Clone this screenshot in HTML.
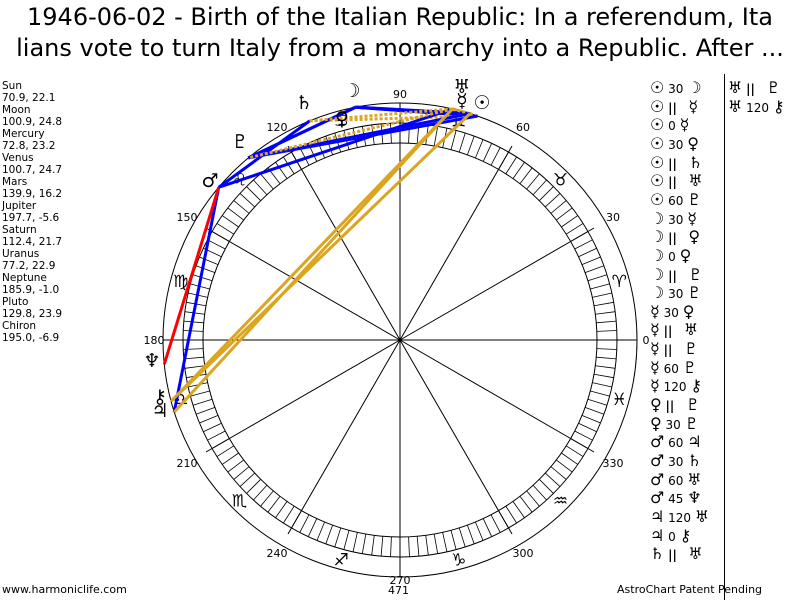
<!DOCTYPE html>
<html><head><meta charset="utf-8">
<style>
body{margin:0;background:#fff;width:800px;height:600px;overflow:hidden;position:relative;font-family:"DejaVu Sans","Liberation Sans",sans-serif;}
.t{position:absolute;left:0;width:800px;text-align:center;font-size:24px;color:#000;white-space:nowrap;}
.l{position:absolute;left:2px;font-size:10.5px;line-height:12px;top:80px;}
.a{position:absolute;font-size:12px;white-space:nowrap;}
.s{position:absolute;font-size:11px;}
.g{font-size:16px;font-weight:bold;}
</style></head><body>
<div class="t" style="top:3px">1946-06-02 - Birth of the Italian Republic: In a referendum, Ita</div>
<div class="t" style="top:34px">lians vote to turn Italy from a monarchy into a Republic. After ...</div>
<div class="l">Sun<br>70.9, 22.1<br>Moon<br>100.9, 24.8<br>Mercury<br>72.8, 23.2<br>Venus<br>100.7, 24.7<br>Mars<br>139.9, 16.2<br>Jupiter<br>197.7, -5.6<br>Saturn<br>112.4, 21.7<br>Uranus<br>77.2, 22.9<br>Neptune<br>185.9, -1.0<br>Pluto<br>129.8, 23.9<br>Chiron<br>195.0, -6.9</div>
<div class="s" style="left:2px;top:583px">www.harmoniclife.com</div>
<div class="s" style="left:388px;top:584px">471</div>
<div class="s" style="left:617px;top:583px">AstroChart Patent Pending</div>
<div style="position:absolute;left:724px;top:74px;width:1px;height:526px;background:#000"></div>
<div id="asp"></div>
<svg id="c" width="800" height="600" style="position:absolute;left:0;top:0"></svg>
<script>
var cx=400,cy=340,svg=document.getElementById('c'),h='';
function P(a,r){var t=a*Math.PI/180;return [cx+r*Math.cos(t),cy-r*Math.sin(t)];}
h+='<circle cx="400" cy="340" r="237" fill="none" stroke="#000"/>';
h+='<circle cx="400" cy="340" r="217" fill="none" stroke="#000"/>';
h+='<circle cx="400" cy="340" r="197" fill="none" stroke="#000"/>';
for(var a=0;a<360;a+=2.5){var p=P(a,197),q=P(a,217);h+='<line x1="'+p[0]+'" y1="'+p[1]+'" x2="'+q[0]+'" y2="'+q[1]+'" stroke="#000" stroke-width="0.8"/>';}
for(var a=0;a<360;a+=30){var r=(a%90==0)?237:224;var q=P(a,r);h+='<line x1="400" y1="340" x2="'+q[0]+'" y2="'+q[1]+'" stroke="#000"/>';
 var rr=(a==270)?240:246;var l=P(a,rr);h+='<text x="'+l[0]+'" y="'+(l[1]+4)+'" font-size="11" text-anchor="middle" font-family="DejaVu Sans">'+a+'</text>';}
var signs="♈♉♊♋♌♍♎♏♐♑♒♓";
for(var i=0;i<12;i++){var p=P(i*30+15,227);h+='<text x="'+p[0]+'" y="'+(p[1]+6)+'" font-size="17" text-anchor="middle" font-family="DejaVu Sans">'+signs[i]+'\uFE0E</text>';}
var L={Su:70.9,Mo:100.9,Me:72.8,Ve:100.7,Ma:139.9,Ju:197.7,Sa:112.4,Ur:77.2,Ne:185.9,Pl:129.8,Ch:195};
var G={Su:"☉",Mo:"☽",Me:"☿",Ve:"♀",Ma:"♂",Ju:"♃",Sa:"♄",Ur:"♅",Ne:"♆",Pl:"♇",Ch:"⚷"};
var asp=[["Su","Mo","30"],["Su","Me","p"],["Su","Me","0"],["Su","Ve","30"],["Su","Sa","p"],["Su","Ur","p"],["Su","Pl","60"],["Mo","Me","30"],["Mo","Ve","p"],["Mo","Ve","0"],["Mo","Pl","p"],["Mo","Pl","30"],["Me","Ve","30"],["Me","Ur","p"],["Me","Pl","p"],["Me","Pl","60"],["Me","Ch","120"],["Ve","Pl","p"],["Ve","Pl","30"],["Ma","Ju","60"],["Ma","Sa","30"],["Ma","Ur","60"],["Ma","Ne","45"],["Ju","Ur","120"],["Ju","Ch","0"],["Sa","Ur","p"],["Ur","Pl","p"],["Ur","Ch","120"]];
asp.forEach(function(x){var p=P(L[x[0]],237),q=P(L[x[1]],237),t=x[2],st='';
 if(t=="0")return;
 if(t=="p")st='stroke="#daa520" stroke-width="3" stroke-dasharray="3,2"';
 else if(t=="120")st='stroke="#daa520" stroke-width="3"';
 else if(t=="45")st='stroke="#ff0000" stroke-width="3"';
 else st='stroke="#0000ff" stroke-width="3"';
 h+='<line x1="'+p[0]+'" y1="'+p[1]+'" x2="'+q[0]+'" y2="'+q[1]+'" '+st+'/>';});
var pos={Su:[482,102],Mo:[352,90],Me:[462,100],Ve:[342,118],Ma:[210,180],Ju:[160,410],Sa:[304,102],Ur:[462,86],Ne:[152,360],Pl:[240,141],Ch:[160,396]};
for(var k in pos){h+='<text x="'+pos[k][0]+'" y="'+(pos[k][1]+7)+'" font-size="19" font-weight="bold" text-anchor="middle" font-family="DejaVu Sans">'+G[k]+'\uFE0E</text>';}
svg.innerHTML=h;
var out='';
asp.forEach(function(x,i){var col=i<26?0:1,row=i<26?i:i-26;var lx=col?728:650,ly=78+row*18.65;
 var t=x[2]=="p"?"<b>||</b>&nbsp;&nbsp;":x[2];
 out+='<div class="a" style="left:'+lx+'px;top:'+ly+'px"><span class="g">'+G[x[0]]+'\uFE0E</span> '+t+' <span class="g">'+G[x[1]]+'\uFE0E</span></div>';});
document.getElementById('asp').innerHTML=out;
</script>
</body></html>
